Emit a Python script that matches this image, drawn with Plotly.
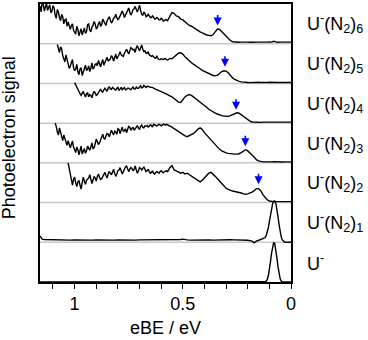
import numpy as np
import plotly.graph_objects as go

# griglia comune in eBE (eV), da 1.16 a 0.00 con passo 0.01
EBE_GRID = np.round(np.arange(1.16, -0.005, -0.01), 2)
# punti intermedi nella zona rumorosa (1.155 .. 0.565)
MID_GRID = np.round(np.arange(1.155, 0.56, -0.01), 3)

# spettri normalizzati (0..1) sulla griglia comune, None = fuori intervallo
N6 = [0.95, 1.05, 0.82, 1.02, 0.90, 0.78, 0.96, 0.72, 0.86, 0.66,
      0.74, 0.50, 0.62, 0.55, 0.36, 0.50, 0.28, 0.44, 0.20, 0.38,
      0.30, 0.26, 0.48, 0.34, 0.42, 0.56, 0.38, 0.50, 0.44, 0.62,
      0.50, 0.58, 0.68, 0.52, 0.64, 0.74, 0.60, 0.70, 0.82, 0.66,
      0.78, 0.90, 0.72, 0.86, 0.94, 0.80, 0.97, 0.74, 0.80, 0.68,
      0.74, 0.66, 0.70, 0.62, 0.66, 0.60, 0.64, 0.57, 0.61, 0.58,
      0.70, 0.79, 0.76, 0.70, 0.68, 0.62, 0.60, 0.55, 0.52, 0.46,
      0.44, 0.40, 0.37, 0.33, 0.30, 0.27, 0.24, 0.22, 0.21, 0.20,
      0.23, 0.30, 0.37, 0.36, 0.30, 0.24, 0.18, 0.12, 0.08, 0.05,
      0.04, 0.04, 0.035, 0.04, 0.045, 0.04, 0.04, 0.035, 0.04, 0.04,
      0.045, 0.04, 0.04, 0.035, 0.04, 0.04, 0.045, 0.04, 0.06, 0.04,
      0.035, 0.04, 0.04, 0.04, 0.04, 0.04, 0.04]
N6_MID = [0.80, 1.00, 0.90, 0.84, 0.98, 0.82, 0.90, 0.64, 0.80, 0.58,
          0.68, 0.60, 0.44, 0.48, 0.46, 0.34, 0.24, 0.36, 0.30, 0.22,
          0.40, 0.30, 0.50, 0.30, 0.46, 0.50, 0.40, 0.56, 0.48, 0.56,
          0.46, 0.62, 0.60, 0.56, 0.66, 0.66, 0.64, 0.72, 0.76, 0.72,
          0.82, 0.80, 0.78, 0.88, 0.86, 0.88, 0.84, 0.72, 0.76, 0.70,
          0.70, 0.66, 0.67, 0.63, 0.64, 0.60, 0.62, 0.58, 0.60, 0.64]

N5 = [None] * 8 + [0.98, 0.78,
      0.88, 0.62, 0.72, 0.50, 0.44, 0.60, 0.32, 0.48, 0.22, 0.40,
      0.28, 0.46, 0.36, 0.30, 0.52, 0.40, 0.50, 0.58, 0.42, 0.60,
      0.52, 0.66, 0.60, 0.70, 0.56, 0.74, 0.66, 0.80, 0.70, 0.76,
      0.86, 0.74, 0.90, 0.84, 0.78, 0.95, 0.82, 0.97, 0.80, 0.76,
      0.80, 0.70, 0.70, 0.64, 0.68, 0.60, 0.62, 0.60, 0.62, 0.59,
      0.63, 0.62, 0.66, 0.72, 0.76, 0.77, 0.74, 0.67, 0.62, 0.55,
      0.52, 0.48, 0.45, 0.41, 0.37, 0.33, 0.30, 0.27, 0.25, 0.22,
      0.20, 0.19, 0.21, 0.25, 0.30, 0.32, 0.31, 0.27, 0.20, 0.14,
      0.10, 0.07, 0.05, 0.04, 0.03, 0.025, 0.025, 0.02, 0.025, 0.025,
      0.025, 0.03, 0.025, 0.02, 0.025, 0.025, 0.03, 0.025, 0.025, 0.02,
      0.025, 0.025, 0.02, 0.025, 0.025, 0.025, 0.025]
N5_MID = [None] * 8 + [0.86, 0.92,
          0.70, 0.54, 0.62, 0.38, 0.56, 0.40, 0.36, 0.30, 0.36, 0.20,
          0.40, 0.32, 0.44, 0.38, 0.36, 0.48, 0.44, 0.50, 0.52, 0.46,
          0.60, 0.56, 0.62, 0.66, 0.64, 0.62, 0.72, 0.72, 0.68, 0.80,
          0.80, 0.82, 0.88, 0.86, 0.90, 0.88, 0.90, 0.86, 0.82, 0.76,
          0.72, 0.68, 0.66, 0.64, 0.63, 0.60, 0.61, 0.62, 0.60, 0.61]

N4 = [None] * 16 + [1.02, 0.90, 0.78, 0.70,
      0.80, 0.66, 0.76, 0.72, 0.64, 0.80, 0.70, 0.76, 0.86, 0.78,
      0.88, 0.80, 0.92, 0.85, 0.88, 0.83, 0.90, 0.86, 0.84, 0.90,
      0.85, 0.88, 0.84, 0.91, 0.86, 0.88, 0.92, 0.89, 0.95, 0.90,
      0.93, 0.90, 0.90, 0.86, 0.84, 0.82, 0.80, 0.78, 0.76, 0.72,
      0.69, 0.66, 0.62, 0.58, 0.53, 0.52, 0.60, 0.66, 0.70, 0.72,
      0.70, 0.66, 0.62, 0.57, 0.53, 0.49, 0.44, 0.40, 0.35, 0.31,
      0.28, 0.25, 0.23, 0.20, 0.19, 0.18, 0.18, 0.17, 0.19, 0.21,
      0.24, 0.26, 0.25, 0.21, 0.16, 0.12, 0.08, 0.05, 0.03, 0.025,
      0.025, 0.025, 0.02, 0.025, 0.025, 0.03, 0.025, 0.025, 0.02, 0.025,
      0.025, 0.025, 0.02, 0.025, 0.025, 0.025, 0.025]
N4_MID = [None] * 16 + [0.96, 0.82, 0.74, 0.76,
          0.72, 0.74, 0.66, 0.70, 0.74, 0.76, 0.72, 0.82, 0.80, 0.84,
          0.84, 0.88, 0.86, 0.90, 0.84, 0.88, 0.82, 0.90, 0.86, 0.84,
          0.88, 0.86, 0.88, 0.86, 0.91, 0.88, 0.94, 0.90, 0.92, 0.93,
          0.92, 0.90, 0.88, 0.85, 0.83, 0.81, 0.79, 0.77, 0.74, 0.70]

N3 = [None] * 7 + [1.00, 0.78, 0.88,
      0.62, 0.70, 0.50, 0.56, 0.38, 0.55, 0.32, 0.40, 0.20, 0.42,
      0.28, 0.24, 0.42, 0.32, 0.50, 0.38, 0.60, 0.46, 0.56, 0.72,
      0.60, 0.74, 0.66, 0.82, 0.70, 0.78, 0.86, 0.74, 0.90, 0.80,
      0.76, 0.92, 0.82, 0.90, 0.86, 0.94, 0.84, 0.95, 0.88, 0.92,
      0.90, 0.96, 0.90, 0.95, 0.93, 0.97, 0.93, 0.98, 0.95, 0.96,
      0.92, 0.90, 0.86, 0.82, 0.78, 0.74, 0.72, 0.68, 0.66, 0.68,
      0.70, 0.74, 0.79, 0.85, 0.88, 0.84, 0.76, 0.70, 0.62, 0.56,
      0.50, 0.44, 0.38, 0.34, 0.30, 0.27, 0.25, 0.24, 0.23, 0.22,
      0.22, 0.22, 0.23, 0.26, 0.30, 0.33, 0.30, 0.26, 0.20, 0.14,
      0.08, 0.05, 0.03, 0.025, 0.025, 0.02, 0.025, 0.025, 0.03, 0.025,
      0.025, 0.025, 0.02, 0.025, 0.025, 0.025, 0.025]
N3_MID = [None] * 7 + [0.92, 0.70, 0.74,
          0.56, 0.62, 0.44, 0.48, 0.46, 0.40, 0.26, 0.34, 0.30, 0.22,
          0.36, 0.30, 0.38, 0.40, 0.36, 0.48, 0.54, 0.50, 0.64, 0.62,
          0.68, 0.72, 0.74, 0.76, 0.80, 0.72, 0.84, 0.82, 0.80, 0.86,
          0.84, 0.90, 0.86, 0.82, 0.90, 0.88, 0.92, 0.89, 0.93, 0.94,
          0.92, 0.94, 0.97, 0.93, 0.95, 0.96, 0.95, 0.96, 0.97, 0.94]

N2 = [None] * 13 + [1.00, 0.72, 0.44, 0.64, 0.40, 0.56, 0.34,
      0.64, 0.46, 0.60, 0.70, 0.48, 0.66, 0.54, 0.72, 0.58, 0.66,
      0.76, 0.62, 0.78, 0.70, 0.84, 0.66, 0.80, 0.88, 0.72, 0.86,
      0.92, 0.78, 0.88, 0.80, 0.92, 0.74, 0.88, 0.82, 0.90, 0.78,
      0.84, 0.74, 0.80, 0.72, 0.78, 0.74, 0.80, 0.75, 0.80, 0.78,
      0.88, 0.93, 0.82, 0.80, 0.78, 0.74, 0.76, 0.72, 0.74, 0.70,
      0.68, 0.62, 0.58, 0.55, 0.52, 0.56, 0.62, 0.68, 0.74, 0.76,
      0.72, 0.66, 0.60, 0.54, 0.47, 0.40, 0.36, 0.33, 0.30, 0.29,
      0.28, 0.27, 0.25, 0.24, 0.22, 0.21, 0.22, 0.24, 0.26, 0.30,
      0.35, 0.35, 0.30, 0.20, 0.12, 0.07, 0.04, 0.025, 0.025, 0.025,
      0.025, 0.025, 0.02, 0.025, 0.025, 0.025, 0.025]
N2_MID = [None] * 13 + [0.84, 0.56, 0.58, 0.50, 0.52, 0.44, 0.50,
          0.54, 0.56, 0.62, 0.58, 0.56, 0.62, 0.66, 0.64, 0.60, 0.72,
          0.68, 0.72, 0.74, 0.76, 0.74, 0.72, 0.82, 0.80, 0.78, 0.90,
          0.84, 0.84, 0.86, 0.84, 0.82, 0.80, 0.86, 0.86, 0.84, 0.80,
          0.78, 0.76, 0.74, 0.76, 0.76, 0.78, 0.77, 0.78, 0.80, 0.84]

# U-(N2)1 e U- hanno un picco stretto: griglia propria
N1_EBE = [1.16, 1.155, 1.15, 1.14, 1.12, 1.10, 1.08, 1.06, 1.04, 1.02,
          1.00, 0.98, 0.96, 0.94, 0.92, 0.90, 0.88, 0.86, 0.84, 0.82,
          0.80, 0.78, 0.76, 0.74, 0.72, 0.70, 0.68, 0.66, 0.64, 0.62,
          0.60, 0.58, 0.56, 0.54, 0.52, 0.51, 0.50, 0.49, 0.48, 0.46,
          0.44, 0.42, 0.40, 0.38, 0.36, 0.34, 0.32, 0.30, 0.29, 0.28,
          0.26, 0.24, 0.22, 0.20, 0.18, 0.17, 0.16, 0.15, 0.14, 0.13,
          0.12, 0.115, 0.11, 0.105, 0.10, 0.095, 0.09, 0.085, 0.08, 0.075,
          0.07, 0.065, 0.06, 0.055, 0.05, 0.045, 0.04, 0.035, 0.03, 0.02,
          0.01, 0.0]
N1 = [0.16, 0.11, 0.08, 0.07, 0.065, 0.06, 0.065, 0.055, 0.06, 0.055,
      0.06, 0.055, 0.06, 0.06, 0.055, 0.06, 0.055, 0.06, 0.06, 0.055,
      0.06, 0.055, 0.06, 0.06, 0.055, 0.06, 0.06, 0.055, 0.06, 0.055,
      0.06, 0.06, 0.055, 0.06, 0.06, 0.07, 0.08, 0.065, 0.06, 0.055,
      0.06, 0.055, 0.06, 0.06, 0.055, 0.06, 0.065, 0.07, 0.075, 0.065,
      0.06, 0.055, 0.06, 0.05, 0.03, -0.015, 0.03, 0.06, 0.07, 0.09,
      0.12, 0.16, 0.24, 0.36, 0.52, 0.70, 0.86, 0.97, 1.03, 1.04,
      0.98, 0.84, 0.64, 0.44, 0.26, 0.13, 0.06, 0.02, 0.005, 0.0,
      0.0, 0.0]

N0_EBE = [1.16, 0.13, 0.12, 0.115, 0.11, 0.105, 0.10, 0.095, 0.09, 0.085,
          0.08, 0.075, 0.07, 0.065, 0.06, 0.055, 0.05, 0.045, 0.04, 0.0]
N0 = [0.0, 0.0, 0.005, 0.02, 0.06, 0.15, 0.30, 0.50, 0.72, 0.90,
      1.00, 0.96, 0.82, 0.60, 0.38, 0.20, 0.08, 0.025, 0.0, 0.0]

LABELS = ["U<sup>-</sup>", "U<sup>-</sup>(N<sub>2</sub>)<sub>1</sub>",
          "U<sup>-</sup>(N<sub>2</sub>)<sub>2</sub>", "U<sup>-</sup>(N<sub>2</sub>)<sub>3</sub>",
          "U<sup>-</sup>(N<sub>2</sub>)<sub>4</sub>", "U<sup>-</sup>(N<sub>2</sub>)<sub>5</sub>",
          "U<sup>-</sup>(N<sub>2</sub>)<sub>6</sub>"]

# frecce blu (eBE, altezza del picco)
ARROW_EBE = [0.150, 0.211, 0.254, 0.305, 0.339]
ARROW_Y = [2.46, 3.42, 4.34, 5.42, 6.46]

FONT = "Liberation Sans, Arial, sans-serif"


def merge(main, mid=None):
    """Unisce griglia principale e punti intermedi, ordinati per eBE decrescente."""
    pts = [(x, v) for x, v in zip(EBE_GRID, main) if v is not None]
    if mid is not None:
        pts += [(x, v) for x, v in zip(MID_GRID, mid) if v is not None]
    pts.sort(key=lambda p: -p[0])
    return [p[0] for p in pts], [p[1] for p in pts]


spectra = [
    (N0_EBE, N0), (N1_EBE, N1),
    merge(N2, N2_MID), merge(N3, N3_MID), merge(N4, N4_MID),
    merge(N5, N5_MID), merge(N6, N6_MID),
]

fig = go.Figure()

for k in range(1, 7):
    fig.add_hline(y=k, line=dict(color="#c8c8c8", width=1.5), layer="below")

for k, (xs, ys) in enumerate(spectra):
    fig.add_trace(go.Scatter(
        x=list(xs), y=[v + k for v in ys], mode="lines",
        line=dict(color="black", width=1.4),
        showlegend=False, hoverinfo="skip",
    ))

for k, lab in enumerate(LABELS):
    fig.add_annotation(x=1.054, xref="paper", y=k + 0.5, yref="y",
                       text=lab, showarrow=False, xanchor="left", yanchor="middle",
                       font=dict(size=18, color="black", family=FONT))

for xa, ya in zip(ARROW_EBE, ARROW_Y):
    fig.add_annotation(x=xa, y=ya, xref="x", yref="y", text="",
                       showarrow=True, ax=0, ay=-12, arrowhead=2, arrowsize=1,
                       arrowwidth=1.6, arrowcolor="#0000ff", standoff=0)

fig.add_annotation(x=-0.12, xref="paper", y=0.52, yref="paper",
                   text="Photoelectron signal", textangle=-90, showarrow=False,
                   xanchor="center", yanchor="middle",
                   font=dict(size=18, color="black", family=FONT))

fig.update_layout(
    width=368, height=340,
    margin=dict(l=40, r=77, t=2, b=58),
    plot_bgcolor="white", paper_bgcolor="white",
    font=dict(family=FONT, size=18, color="black"),
    xaxis=dict(
        range=[1.16, 0], showgrid=False, zeroline=False,
        showline=True, linecolor="black", linewidth=1.5, mirror=True,
        ticks="outside", ticklen=5, tickwidth=1.2, tickcolor="black",
        tickvals=[1, 0.5, 0], ticktext=["1", "0.5", "0"],
        tickfont=dict(size=18),
        minor=dict(dtick=0.1, tick0=0, ticks="outside", ticklen=5,
                   tickwidth=1.2, tickcolor="black"),
        title=dict(text="eBE / eV", standoff=8, font=dict(size=18)),
    ),
    yaxis=dict(
        range=[0, 7], showgrid=False, zeroline=False, showticklabels=False,
        showline=True, linecolor="black", linewidth=1.5, mirror=True, ticks="",
    ),
)

# la pagina ha un margine di 8px sul body: lo togliamo
fig.write_html("out.html", config={"displayModeBar": False},
               post_script="document.body.style.margin='0';")
